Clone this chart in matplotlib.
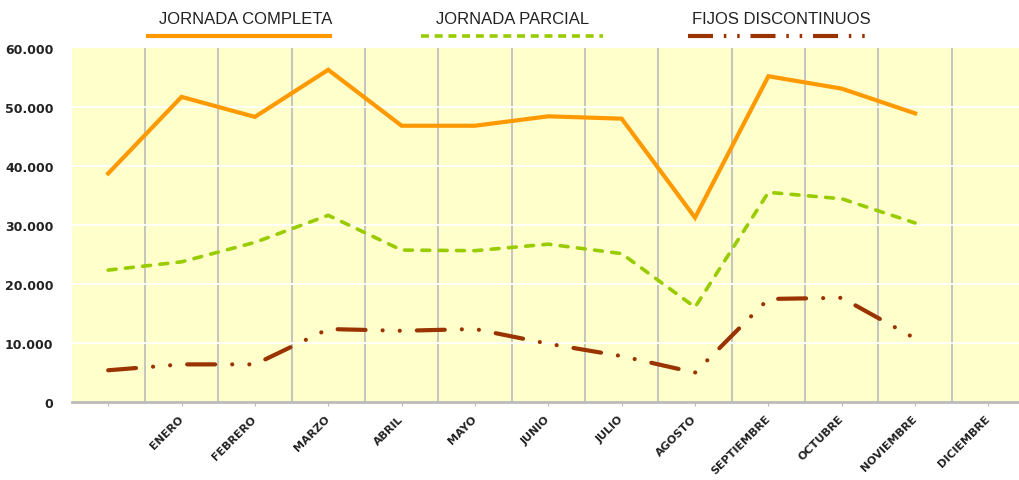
import matplotlib.pyplot as plt
from matplotlib.lines import Line2D
import numpy as np

# categories (first slot has no label)
meses = ["", "ENERO", "FEBRERO", "MARZO", "ABRIL", "MAYO", "JUNIO", "JULIO",
         "AGOSTO", "SEPTIEMBRE", "OCTUBRE", "NOVIEMBRE", "DICIEMBRE"]

jornada_completa = [38700, 51700, 48300, 56300, 46800, 46800, 48400, 48000,
                    31200, 55200, 53100, 48900]
jornada_parcial = [22300, 23700, 27000, 31600, 25700, 25600, 26700, 25100,
                   16000, 35500, 34400, 30300]
fijos_discontinuos = [5300, 6300, 6300, 12300, 12000, 12300, 9800, 7700,
                      4900, 17400, 17600, 10700]

yticks = [0, 10000, 20000, 30000, 40000, 50000, 60000]
ytick_labels = ["0", "10.000", "20.000", "30.000", "40.000", "50.000", "60.000"]

c_completa = "#FF9900"
c_parcial = "#99CC00"
c_fijos = "#993300"
txt = "#222222"

fig = plt.figure(figsize=(10.2, 4.81), dpi=100)
ax = fig.add_axes([0.0701, 0.1632, 0.9299, 0.735])
ax.set_facecolor("#FFFFCC")

x = np.arange(len(jornada_completa))

ax.plot(x, jornada_completa, color=c_completa, lw=3, solid_joinstyle="miter")
ax.plot(x, jornada_parcial, color=c_parcial, lw=2.6,
        dashes=(2.2, 2.6), dash_capstyle="round")
ax.plot(x, fijos_discontinuos, color=c_fijos, lw=3,
        dashes=(6.7, 4.1, 0.01, 4.1, 0.01, 4.1), dash_capstyle="round")

ax.set_xlim(-0.5, 12.43)
ax.set_ylim(0, 60000)

# vertical category separators
for b in np.arange(0.5, 12.5, 1):
    ax.axvline(b, color="#C0C0C0", lw=1.3, zorder=0)
for yv in yticks[1:-1]:
    ax.axhline(yv, color="white", lw=1.3, zorder=0)

for s in ["top", "right", "left"]:
    ax.spines[s].set_visible(False)
ax.spines["bottom"].set_color("#BBBBBB")
ax.spines["bottom"].set_linewidth(2)

ax.set_yticks(yticks)
ax.set_yticklabels(ytick_labels, fontsize=9, fontweight="bold", color=txt)
ax.tick_params(axis="y", length=0, pad=13)

ax.set_xticks(np.arange(len(meses)))
ax.set_xticklabels(meses, rotation=45, rotation_mode="anchor", ha="right",
                   va="center", fontsize=8, fontweight="bold", color=txt)
ax.tick_params(axis="x", length=3, color="#BBBBBB", pad=8)

# legend drawn above the plot: text over the line sample
W, H = 1020, 481
legend_items = [
    ("JORNADA COMPLETA", 148, 330, 246, dict(color=c_completa, lw=3)),
    ("JORNADA PARCIAL", 421, 603, 513, dict(color=c_parcial, lw=2.6, dashes=(2.2, 1.6))),
    ("FIJOS DISCONTINUOS", 688, 868, 781,
     dict(color=c_fijos, lw=3, dashes=(6.0, 2.6, 0.6, 2.6, 0.6, 2.6))),
]
for label, x0, x1, xc, style in legend_items:
    fig.add_artist(Line2D([x0 / W, x1 / W], [1 - 37 / H, 1 - 37 / H],
                          transform=fig.transFigure, **style))
    fig.text(xc / W, 1 - 20 / H, label, ha="center", va="center",
             fontsize=12, family="Liberation Sans", color=txt)

fig.savefig("out.png", dpi=100)
